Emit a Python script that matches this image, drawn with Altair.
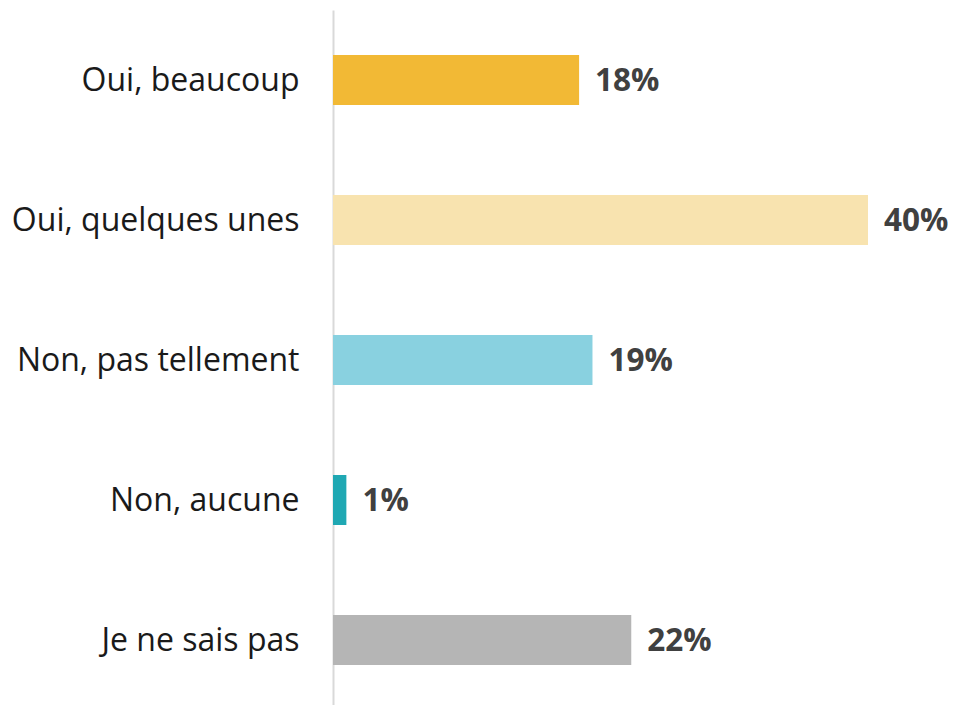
import altair as alt
import pandas as pd

categories = ["Oui, beaucoup", "Oui, quelques unes", "Non, pas tellement", "Non, aucune", "Je ne sais pas"]
values = [18.4, 40.0, 19.4, 1.0, 22.3]
labels = ["18%", "40%", "19%", "1%", "22%"]
colors = ["#F2B935", "#F8E3AF", "#89D1E0", "#1FA8B3", "#B5B5B5"]

df = pd.DataFrame({"cat": categories, "val": values, "lab": labels, "col": colors})

y_enc = alt.Y(
    "cat:N",
    sort=categories,
    title=None,
    scale=alt.Scale(paddingInner=0.643, paddingOuter=0.3215),
    axis=alt.Axis(
        domain=True,
        domainColor="#D9D9D9",
        domainWidth=2,
        ticks=False,
        tickSize=0,
        labelFont="Open Sans",
        labelFontSize=32,
        labelColor="#1A1A1A",
        labelPadding=34,
        labelLimit=400,
        labelOffset=1,
        grid=False,
    ),
)
x_enc = alt.X("val:Q", scale=alt.Scale(domain=[0, 40], nice=False), axis=None)

bars = alt.Chart(df).mark_bar().encode(
    x=x_enc,
    y=y_enc,
    color=alt.Color("col:N", scale=None),
)

text = alt.Chart(df).mark_text(
    align="left",
    baseline="middle",
    dx=16,
    dy=2,
    font="Open Sans",
    fontSize=31.5,
    fontWeight="bold",
    color="#404040",
).encode(x=x_enc, y=alt.Y("cat:N", sort=categories), text="lab:N")

chart = (
    alt.layer(bars, text)
    .properties(
        width=535,
        height=700,
        background="white",
        autosize=alt.AutoSizeParams(type="none"),
        padding={"top": 2, "left": 325, "right": 80, "bottom": 0},
    )
    .configure_view(strokeWidth=0, stroke=None)
)

chart.save("out.html", embed_options={"renderer": "svg", "actions": False})
